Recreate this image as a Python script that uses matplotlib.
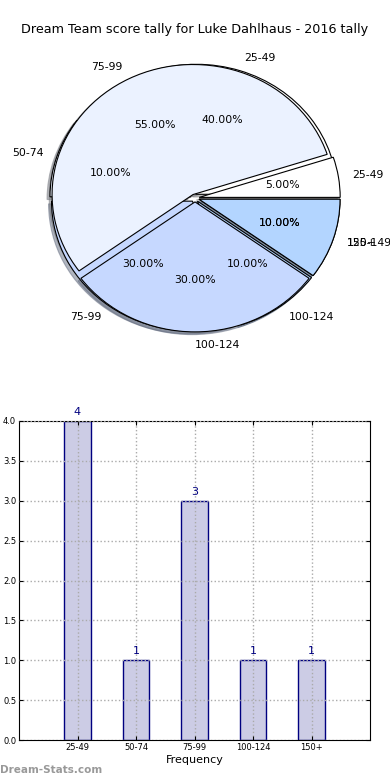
import matplotlib
matplotlib.use("Agg")
import matplotlib.pyplot as plt

# --- Data --------------------------------------------------------------------

TITLE = "Dream Team score tally for Luke Dahlhaus - 2016 tally"

# first pie (drawn underneath)
pie1_labels = ["25-49", "50-74", "75-99", "100-124", "150+"]
pie1_values = [40, 10, 30, 10, 10]

# second pie (drawn on top of the first)
pie2_labels = ["25-49", "75-99", "100-124", "125-149"]
pie2_values = [5, 55, 30, 10]

bar_labels = ["25-49", "50-74", "75-99", "100-124", "150+"]
bar_counts = [4, 1, 3, 1, 1]

# --- Style -------------------------------------------------------------------

PIE_COLORS = ["#FFFFFF", "#EBF2FF", "#C6D8FF", "#B3D5FF", "#A8CCFF"]
BAR_FACE = "#CCCCE5"
BAR_EDGE = "#000080"
GRID_COLOR = "#AAAAAA"
TEXT_COLOR = "#000000"

W, H = 390, 780
fig = plt.figure(figsize=(W / 100, H / 100), dpi=100)
fig.set_facecolor("white")

fig.text(0.5, 1 - 30 / H, TITLE, ha="center", va="center",
         fontsize=9.2, color=TEXT_COLOR)

# --- Pie ---------------------------------------------------------------------

cx, cy, rx, ry = 195, 198, 141, 130
ax_pie = fig.add_axes([(cx - 1.25 * rx) / W, 1 - (cy + 1.25 * ry) / H,
                       2.5 * rx / W, 2.5 * ry / H])

for labels, values in ((pie1_labels, pie1_values), (pie2_labels, pie2_values)):
    ax_pie.pie(values, labels=labels, colors=PIE_COLORS[:len(values)],
               explode=[0.03] * len(values),
               shadow={"ox": -0.015, "oy": -0.015, "shade": 0.5},
               autopct="%.2f%%", startangle=0, normalize=True,
               wedgeprops={"edgecolor": "black", "linewidth": 0.8},
               textprops={"fontsize": 7.8, "color": TEXT_COLOR})

ax_pie.set_aspect("auto")
ax_pie.set_xlim(-1.25, 1.25)
ax_pie.set_ylim(-1.25, 1.25)
ax_pie.axis("off")

# --- Bar ---------------------------------------------------------------------

ax_bar = fig.add_axes([19 / W, 1 - 740 / H, 351 / W, 319 / H])
x = range(len(bar_labels))
bars = ax_bar.bar(x, bar_counts, 0.45, color=BAR_FACE, edgecolor=BAR_EDGE,
                  linewidth=1, zorder=1)
for b in bars:
    ax_bar.text(b.get_x() + b.get_width() / 2, b.get_height() + 0.05,
                f"{int(b.get_height())}", ha="center", va="bottom",
                fontsize=8, color=BAR_EDGE)

ax_bar.set_xlim(-1, 5)
ax_bar.set_ylim(0, 4)
ax_bar.set_xticks(list(x))
ax_bar.set_xticklabels(bar_labels)
ax_bar.set_yticks([i * 0.5 for i in range(9)])
ax_bar.yaxis.set_major_formatter(matplotlib.ticker.FormatStrFormatter("%.1f"))
ax_bar.tick_params(direction="in", top=True, right=True, labelsize=6,
                   length=3, pad=2)
ax_bar.set_xlabel("Frequency", fontsize=8, labelpad=2)
ax_bar.grid(True, linestyle=":", color=GRID_COLOR, linewidth=1, zorder=3)
ax_bar.set_axisbelow(False)

fig.text(0, 1 - 770 / H, "Dream-Stats.com", ha="left", va="center",
         fontsize=7.5, color="#999999", fontweight="bold")

fig.savefig("out.png", dpi=100, facecolor="white")
